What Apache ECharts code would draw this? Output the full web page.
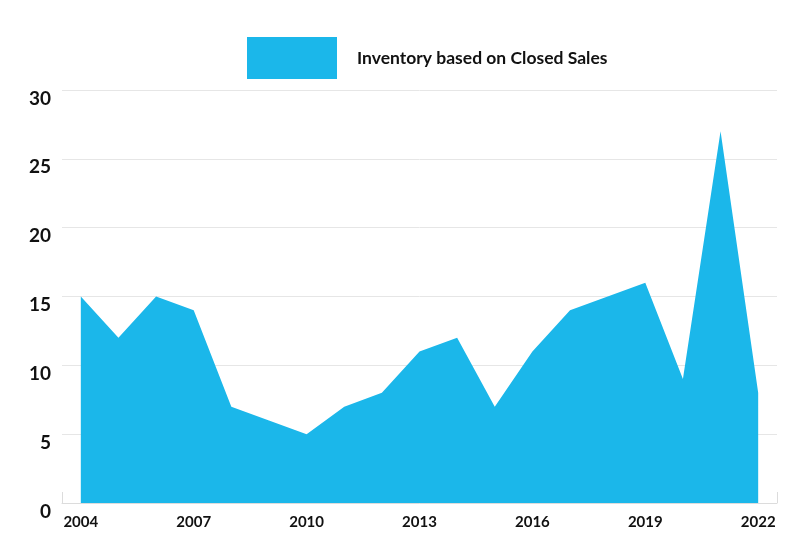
<!DOCTYPE html>
<html>
<head>
<meta charset="utf-8">
<script src="https://cdn.jsdelivr.net/npm/echarts@6/dist/echarts.min.js"></script>
<style>html,body{margin:0;padding:0;background:#fff}#c{width:800px;height:552px}</style>
</head>
<body>
<div id="c"></div>
<script>
var years = ['2004','2005','2006','2007','2008','2009','2010','2011','2012','2013','2014','2015','2016','2017','2018','2019','2020','2021','2022'];
var inventory = [15,12,15,14,7,6,5,7,8,11,12,7,11,14,15,16,9,27,8];
var seriesName = 'Inventory based on Closed Sales';

var chart = echarts.init(document.getElementById('c'));
chart.setOption({
  animation: false,
  legend: {
    left: 247, top: 37, padding: 0,
    itemWidth: 90, itemHeight: 42, itemGap: 20,
    icon: 'rect',
    textStyle: { fontFamily: 'Lato', fontWeight: 'bold', fontSize: 17.5, color: '#111', padding: [0,0,0,15] },
    data: [seriesName]
  },
  grid: { left: 62, right: 23, top: 90, bottom: 49, containLabel: false },
  xAxis: {
    type: 'category',
    data: years,
    boundaryGap: true,
    axisLine: { lineStyle: { color: '#dcdcdc', width: 1 } },
    axisTick: { show: true, inside: true, length: 11, interval: 0, lineStyle: { color: '#dcdcdc' } },
    axisLabel: { interval: 2, margin: 12, fontFamily: 'Lato', fontWeight: 'bold', fontSize: 15, color: '#111' }
  },
  yAxis: {
    type: 'value', min: 0, max: 30, interval: 5,
    axisLine: { show: false }, axisTick: { show: false },
    splitLine: { lineStyle: { color: '#e6e6e6', width: 1 } },
    axisLabel: { margin: 11, fontFamily: 'Lato', fontWeight: 'bold', fontSize: 19, color: '#111', verticalAlign: 'top', padding: [-1,0,0,0] }
  },
  series: [{
    name: seriesName,
    type: 'line',
    data: inventory,
    symbol: 'none',
    lineStyle: { width: 0, color: '#1BB7EA' },
    itemStyle: { color: '#1BB7EA' },
    areaStyle: { color: '#1BB7EA', opacity: 1 }
  }]
});
</script>
</body>
</html>
